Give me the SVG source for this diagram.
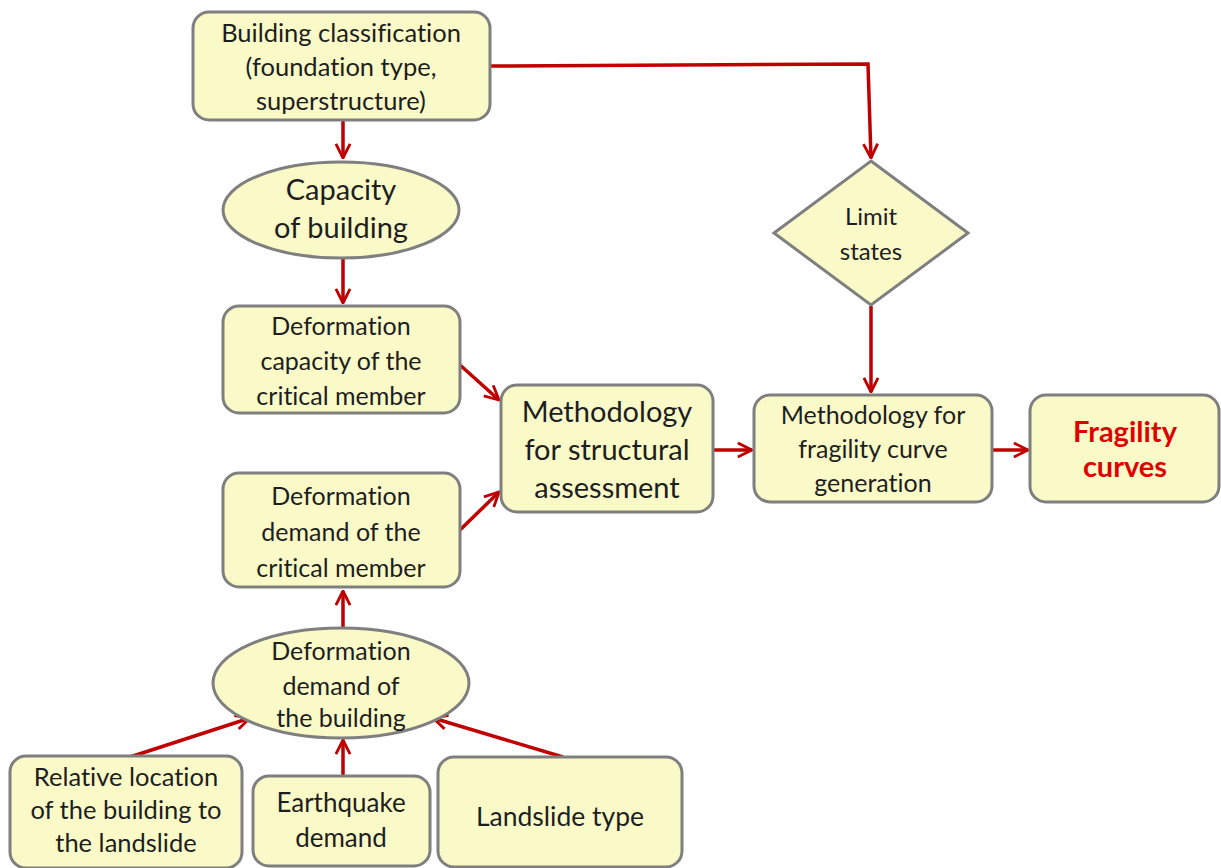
<svg xmlns="http://www.w3.org/2000/svg" width="1221" height="868" viewBox="0 0 1221 868">
<defs>
<marker id="ah" viewBox="0 0 12 12" refX="11" refY="6" markerWidth="17" markerHeight="17" markerUnits="userSpaceOnUse" orient="auto">
<path d="M1,1 L11,6 L1,11" fill="none" stroke="#c00000" stroke-width="2"/>
</marker>
</defs>
<style>
.n{fill:#fafac8;stroke:#7f7f7f;stroke-width:3}
.t{font-family:Lato,"Open Sans","Liberation Sans",sans-serif;fill:#1e1e1e;text-anchor:middle;font-variant-ligatures:none}
.c{stroke:#c00000;stroke-width:3.5;fill:none;marker-end:url(#ah)}
</style>
<rect width="1221" height="868" fill="#ffffff"/>
<g id="connectors">
<path class="c" d="M343,121 L343,158"/>
<path class="c" d="M343,259 L343,303"/>
<path class="c" d="M490,66 L868,64 L871,158"/>
<path class="c" d="M871,306 L871,392"/>
<path class="c" d="M460,365 L499,400"/>
<path class="c" d="M460,530 L499,492"/>
<path class="c" d="M713,450 L752,450"/>
<path class="c" d="M992,450 L1028,450"/>
<path class="c" d="M343,628 L343,591"/>
<path class="c" d="M130,757 L250,718"/>
<path class="c" d="M343,776 L343,740"/>
<path class="c" d="M563,757 L433,718"/>
</g>
<g id="building-classification">
<rect class="n" x="193" y="12" width="297" height="108" rx="16"/>
<text class="t" font-size="25.5"><tspan x="341" y="42">Building classification</tspan><tspan x="341" y="76">(foundation type,</tspan><tspan x="341" y="110">superstructure)</tspan></text>
</g>
<g id="capacity-of-building">
<ellipse class="n" cx="341" cy="210" rx="118" ry="48"/>
<text class="t" font-size="29"><tspan x="341" y="200">Capacity</tspan><tspan x="341" y="238">of building</tspan></text>
</g>
<g id="deformation-capacity">
<rect class="n" x="223" y="306" width="237" height="107" rx="16"/>
<text class="t" font-size="25"><tspan x="341" y="335">Deformation</tspan><tspan x="341" y="370">capacity of the</tspan><tspan x="341" y="405">critical member</tspan></text>
</g>
<g id="methodology-structural">
<rect class="n" x="501" y="385" width="212" height="127" rx="16"/>
<text class="t" font-size="29"><tspan x="607" y="422">Methodology</tspan><tspan x="607" y="460">for structural</tspan><tspan x="607" y="498">assessment</tspan></text>
</g>
<g id="deformation-demand-critical">
<rect class="n" x="223" y="473" width="237" height="114" rx="16"/>
<text class="t" font-size="25"><tspan x="341" y="505">Deformation</tspan><tspan x="341" y="541">demand of the</tspan><tspan x="341" y="577">critical member</tspan></text>
</g>
<g id="deformation-demand-building">
<ellipse class="n" cx="341" cy="683" rx="128" ry="55"/>
<text class="t" font-size="25"><tspan x="341" y="660">Deformation</tspan><tspan x="341" y="695">demand of</tspan><tspan x="341" y="727">the building</tspan></text>
</g>
<g id="relative-location">
<rect class="n" x="10" y="756" width="232" height="112" rx="16"/>
<text class="t" font-size="25.5"><tspan x="126" y="786">Relative location</tspan><tspan x="126" y="819">of the building to</tspan><tspan x="126" y="852">the landslide</tspan></text>
</g>
<g id="earthquake-demand">
<rect class="n" x="253" y="776" width="177" height="90" rx="16"/>
<text class="t" font-size="26"><tspan x="341" y="812">Earthquake</tspan><tspan x="341" y="847">demand</tspan></text>
</g>
<g id="landslide-type">
<rect class="n" x="438" y="757" width="244" height="110" rx="16"/>
<text class="t" font-size="26.5"><tspan x="560" y="826">Landslide type</tspan></text>
</g>
<g id="limit-states">
<polygon class="n" points="871,161 968,233 871,305 774,233"/>
<text class="t" font-size="24"><tspan x="871" y="225">Limit</tspan><tspan x="871" y="260">states</tspan></text>
</g>
<g id="methodology-fragility">
<rect class="n" x="754" y="395" width="238" height="107" rx="16"/>
<text class="t" font-size="25"><tspan x="873" y="424">Methodology for</tspan><tspan x="873" y="458">fragility curve</tspan><tspan x="873" y="492">generation</tspan></text>
</g>
<g id="fragility-curves">
<rect class="n" x="1030" y="395" width="189" height="107" rx="16"/>
<text class="t" font-size="29" font-weight="bold" style="fill:#e00000"><tspan x="1125" y="442">Fragility</tspan><tspan x="1125" y="477">curves</tspan></text>
</g>
</svg>
